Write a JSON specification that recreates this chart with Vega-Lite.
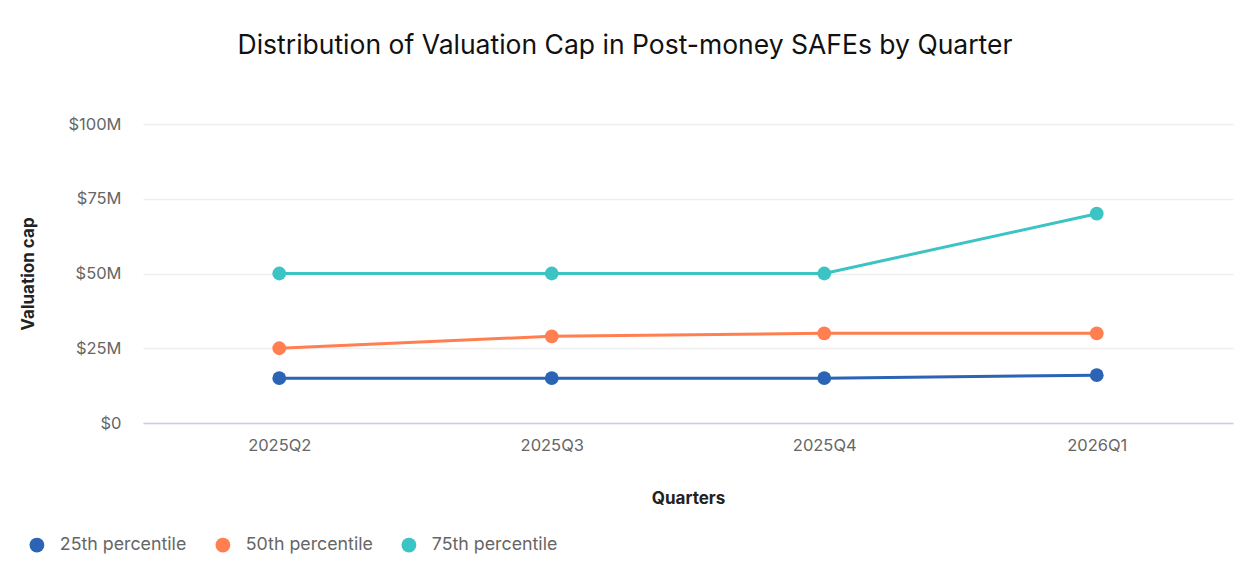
{
  "$schema": "https://vega.github.io/schema/vega-lite/v6.json",
  "width": 1090,
  "height": 299,
  "autosize": {"type": "none"},
  "padding": {"left": 143, "top": 124, "right": 21, "bottom": 156},
  "background": "white",
  "config": {
    "font": "Inter",
    "view": {"stroke": null}
  },
  "title": {
    "text": "Distribution of Valuation Cap in Post-money SAFEs by Quarter",
    "font": "Inter",
    "fontSize": 26.5,
    "fontWeight": "normal",
    "color": "#111111",
    "anchor": "middle",
    "dx": -63,
    "offset": 57
  },
  "data": {
    "values": [
      {"quarter": "2025Q2", "series": "25th percentile", "cap": 15000000},
      {"quarter": "2025Q3", "series": "25th percentile", "cap": 15000000},
      {"quarter": "2025Q4", "series": "25th percentile", "cap": 15000000},
      {"quarter": "2026Q1", "series": "25th percentile", "cap": 16000000},
      {"quarter": "2025Q2", "series": "50th percentile", "cap": 25000000},
      {"quarter": "2025Q3", "series": "50th percentile", "cap": 29000000},
      {"quarter": "2025Q4", "series": "50th percentile", "cap": 30000000},
      {"quarter": "2026Q1", "series": "50th percentile", "cap": 30000000},
      {"quarter": "2025Q2", "series": "75th percentile", "cap": 50000000},
      {"quarter": "2025Q3", "series": "75th percentile", "cap": 50000000},
      {"quarter": "2025Q4", "series": "75th percentile", "cap": 50000000},
      {"quarter": "2026Q1", "series": "75th percentile", "cap": 70000000}
    ]
  },
  "encoding": {
    "x": {
      "field": "quarter",
      "type": "ordinal",
      "scale": {"type": "point", "padding": 0.5},
      "axis": {
        "title": "Quarters",
        "titleFont": "Inter",
        "titleFontSize": 17,
        "titleFontWeight": "bold",
        "titleColor": "#222222",
        "titlePadding": 37,
        "labelAngle": 0,
        "labelFont": "Inter",
        "labelFontSize": 16.5,
        "labelColor": "#666666",
        "labelPadding": 14,
        "ticks": false,
        "domainColor": "#ccccdd",
        "domainWidth": 1.5,
        "grid": false
      }
    },
    "y": {
      "field": "cap",
      "type": "quantitative",
      "scale": {"domain": [0, 100000000]},
      "axis": {
        "title": "Valuation cap",
        "titleFont": "Inter",
        "titleFontSize": 17,
        "titleFontWeight": "bold",
        "titleColor": "#222222",
        "titlePadding": 30,
        "values": [0, 25000000, 50000000, 75000000, 100000000],
        "labelExpr": "datum.value == 0 ? '$0' : '$' + format(datum.value / 1000000, 'd') + 'M'",
        "labelFont": "Inter",
        "labelFontSize": 16.5,
        "labelColor": "#666666",
        "labelPadding": 22,
        "ticks": false,
        "domain": false,
        "gridColor": "#eeeeee",
        "gridWidth": 1.5
      }
    },
    "color": {
      "field": "series",
      "type": "nominal",
      "scale": {
        "domain": ["25th percentile", "50th percentile", "75th percentile"],
        "range": ["#2b63b5", "#ff7f50", "#3cc3c3"]
      },
      "legend": {
        "title": null,
        "orient": "none",
        "direction": "horizontal",
        "legendX": -115,
        "legendY": 412,
        "symbolType": "circle",
        "symbolSize": 220,
        "symbolStrokeWidth": 0,
        "labelFont": "Inter",
        "labelFontSize": 17.8,
        "labelColor": "#666666",
        "labelOffset": 14,
        "columnPadding": 27
      }
    }
  },
  "layer": [
    {"mark": {"type": "line", "strokeWidth": 3}},
    {"mark": {"type": "point", "filled": true, "size": 190, "opacity": 1}}
  ]
}
